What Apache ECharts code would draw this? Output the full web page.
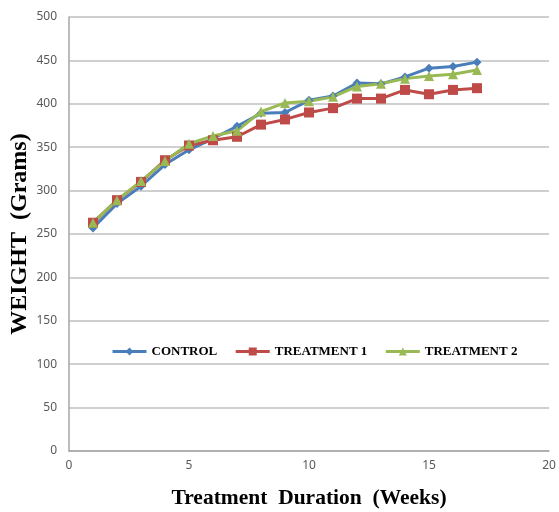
<!DOCTYPE html>
<html><head><meta charset="utf-8">
<script src="https://cdn.jsdelivr.net/npm/echarts@6/dist/echarts.min.js"></script>
<style>html,body{margin:0;padding:0;background:#fff}#c{width:559px;height:512px}</style>
</head><body><div id="c"></div>
<script>
const weeks = [1,2,3,4,5,6,7,8,9,10,11,12,13,14,15,16,17];
const control = [257,285,305,330,347,360,374,389,390,404,409,424,423,431,441,443,448];
const treatment1 = [263,289,310,335,352,358,362,376,382,390,395,406,406,416,411,416,418];
const treatment2 = [263,289,311,334,354,363,369,391,401,403,408,420,423,429,432,434,439];
const seriesNames = ['CONTROL','TREATMENT 1','TREATMENT 2'];
const colors = ['#4A7EBB','#BE4B48','#98B954'];
const symbols = ['diamond','rect','triangle'];
const symbolSizes = [9,10,10];
const values = [control, treatment1, treatment2];

const chart = echarts.init(document.getElementById('c'));
chart.setOption({
  animation:false,
  grid:{left:69,right:10,top:17,bottom:61,outerBoundsMode:'none',containLabel:false},
  legend:{
    data:seriesNames,
    top:340,left:106,itemGap:17,itemWidth:34,itemHeight:10,
    lineStyle:{width:3},
    textStyle:{fontFamily:'Liberation Serif',fontWeight:'bold',fontSize:13,color:'#000'}
  },
  xAxis:{type:'value',min:0,max:20,interval:5,
    name:'Treatment  Duration  (Weeks)',nameLocation:'middle',nameGap:36,nameMoveOverlap:false,
    nameTextStyle:{fontFamily:'Liberation Serif',fontWeight:'bold',fontSize:21.5,color:'#000'},
    axisLine:{lineStyle:{color:'#A6A6A6',width:1.5}},axisTick:{show:false},
    axisLabel:{fontFamily:'Noto Sans',fontSize:12,color:'#595959',margin:9},
    splitLine:{show:false}},
  yAxis:{type:'value',min:0,max:500,interval:50,
    name:'WEIGHT  (Grams)',nameLocation:'middle',nameGap:37,nameMoveOverlap:false,
    nameTextStyle:{fontFamily:'Liberation Serif',fontWeight:'bold',fontSize:24,color:'#000'},
    axisLine:{show:true,lineStyle:{color:'#A6A6A6',width:1.5}},axisTick:{show:false},
    axisLabel:{fontFamily:'Noto Sans',fontSize:12,color:'#595959',margin:12},
    splitLine:{lineStyle:{color:'#BFBFBF',width:1.5}}},
  series:seriesNames.map((n,i)=>({
    name:n,type:'line',data:weeks.map((w,j)=>[w,values[i][j]]),
    symbol:symbols[i],symbolSize:symbolSizes[i],
    lineStyle:{color:colors[i],width:3},itemStyle:{color:colors[i]}
  }))
});
</script></body></html>
